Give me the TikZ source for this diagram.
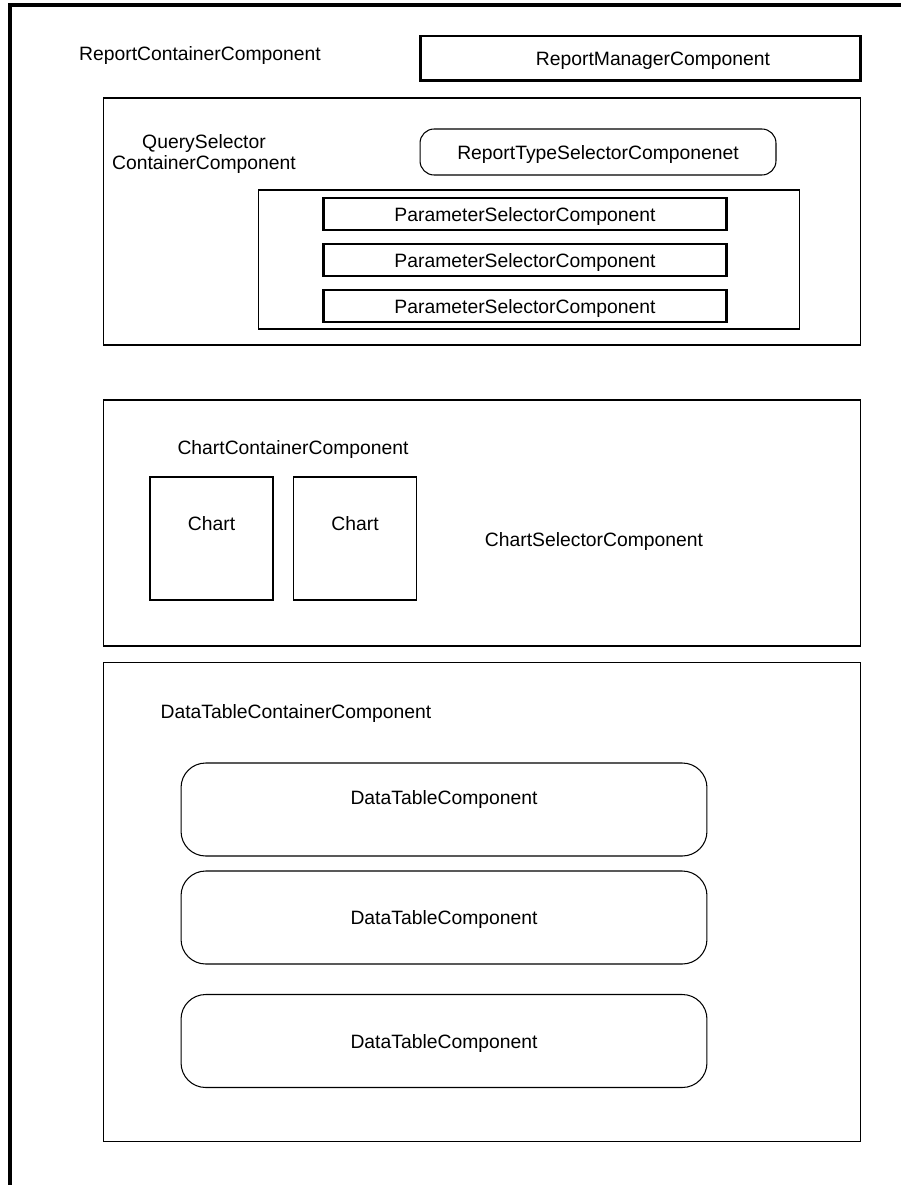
\documentclass[tikz,border=0pt]{standalone}
\usepackage{fontspec}
\setmainfont{Liberation Sans}
\usetikzlibrary{positioning}

\tikzset{
  box/.style={draw, line width=0.6pt, inner sep=0pt, text height=8pt, text depth=0pt},
  boldbox/.style={box, line width=1.7pt},
  roundbox/.style={box, rounded corners=8pt},
  tablebox/.style={box, rounded corners=14pt},
  lbl/.style={inner sep=0pt, text height=8pt, text depth=0pt},
}

\begin{document}
\begin{tikzpicture}[x=0.02cm, y=-0.02cm, font=\fontsize{11}{12}\selectfont]
\useasboundingbox (0,0) rectangle (901,1185);
\fill[white] (0,0) rectangle (901,1185);
% outer report container, runs off the page
\coordinate (outerBL) at (10,1200);
\coordinate (outerTL) at (10,5);
\coordinate (outerTR) at (920,5);
\draw[line width=1.8pt] (outerBL) -- (outerTL) -- (outerTR);
\node[lbl] (reportContainer) at (200,53) {ReportContainerComponent};
\node[boldbox, minimum width=8.82cm, minimum height=0.9cm] (reportManager) at (640.5,58.5) {\hspace*{0.5cm}ReportManagerComponent};

% query selector
\node[box, minimum width=15.16cm, minimum height=4.94cm] (queryContainer) at (482,221.5) {};
\node[inner sep=0pt, align=center] (queryLabel) at (204,154) {QuerySelector\\ContainerComponent};
\node[roundbox, minimum width=7.12cm, minimum height=0.92cm] (reportType) at (598,152) {ReportTypeSelectorComponenet};
\node[box, minimum width=10.84cm, minimum height=2.78cm] (paramContainer) at (529,259.5) {};
\node[boldbox, minimum width=8.08cm, minimum height=0.64cm] (param1) at (525,214) {ParameterSelectorComponent};
\node[boldbox, minimum width=8.08cm, minimum height=0.64cm] (param2) at (525,260) {ParameterSelectorComponent};
\node[boldbox, minimum width=8.08cm, minimum height=0.64cm] (param3) at (525,306) {ParameterSelectorComponent};

% charts
\node[box, minimum width=15.16cm, minimum height=4.92cm] (chartContainer) at (482,523) {};
\node[lbl] (chartLabel) at (293,447) {ChartContainerComponent};
\node[box, minimum width=2.46cm, minimum height=2.46cm] (chart1) at (211.5,538.5) {};
\node[box, minimum width=2.46cm, minimum height=2.46cm] (chart2) at (355,538.5) {};
\node[lbl] (chart1Label) at (211.5,523) {Chart};
\node[lbl] (chart2Label) at (355,523) {Chart};
\node[lbl] (chartSelector) at (594,539) {ChartSelectorComponent};

% data tables
\node[box, minimum width=15.16cm, minimum height=9.6cm] (tableContainer) at (482,902) {};
\node[lbl] (tableLabel) at (296,711) {DataTableContainerComponent};
\node[tablebox, minimum width=10.52cm, minimum height=1.86cm] (table1) at (444,809.5) {};
\node[lbl] (table1Label) at (444,797) {DataTableComponent};
\node[tablebox, minimum width=10.52cm, minimum height=1.86cm] (table2) at (444,917.5) {DataTableComponent};
\node[tablebox, minimum width=10.52cm, minimum height=1.86cm] (table3) at (444,1041) {DataTableComponent};
\end{tikzpicture}
\end{document}
